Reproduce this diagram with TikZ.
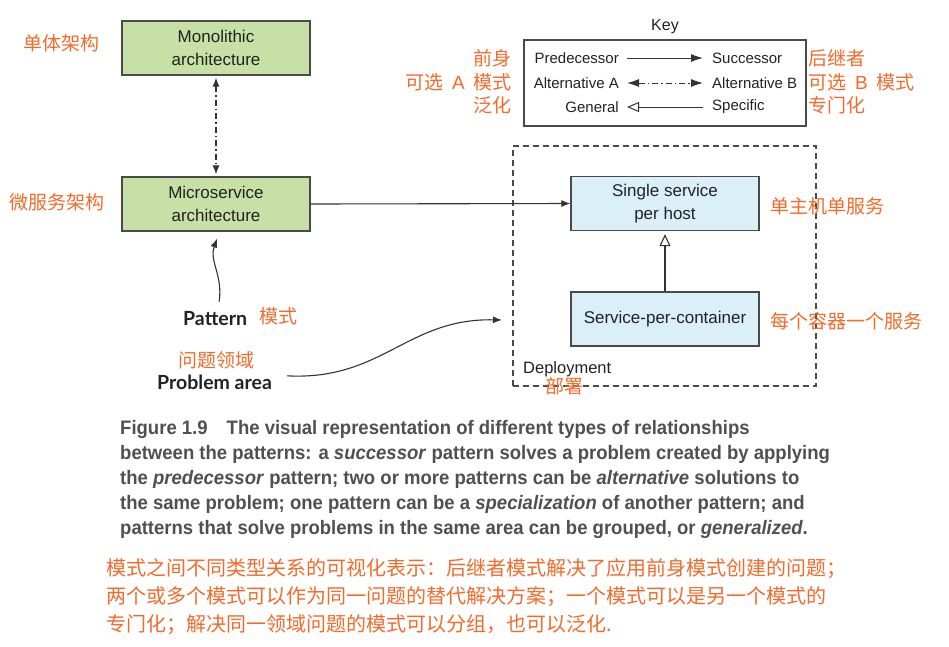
\documentclass[tikz,border=0pt]{standalone}
\usepackage{fontspec}
\usepackage{graphicx}
\setmainfont{Liberation Sans}
\newfontfamily\cjk{Noto Sans CJK SC}
\newfontfamily\boldf{Lato}
\usetikzlibrary{arrows.meta,calc}
\definecolor{zhorange}{HTML}{F26B2B}
\definecolor{greenf}{HTML}{C6E0A6}
\definecolor{bluef}{HTML}{DBEFF8}
\definecolor{boxline}{HTML}{4A4A4A}
\definecolor{linec}{HTML}{333333}
\definecolor{textc}{HTML}{222222}
\definecolor{capc}{HTML}{505050}
\tikzset{
  box/.style={draw=boxline, line width=1.2pt, minimum width=188pt, minimum height=54pt,
    align=center, font=\fontsize{17}{23}\selectfont, text=textc, inner sep=0pt},
  zh/.style={font=\cjk\fontsize{19}{24}\selectfont, text=zhorange, inner sep=0pt},
  keyt/.style={font=\fontsize{15}{16}\selectfont, text=textc, inner sep=0pt},
  bigb/.style={font=\boldf\bfseries\fontsize{19.5}{20}\selectfont, text=textc, inner sep=0pt},
  conn/.style={draw=linec, line width=1.1pt},
  tipf/.style={-{Latex[length=9pt,width=7pt]}},
  ktip/.style={-{Latex[length=12pt,width=8pt]}},
  alt/.style={dash pattern=on 6pt off 3pt on 1.5pt off 3pt},
  capl/.style={anchor=base west, inner sep=0pt, text=capc},
  zhcap/.style={anchor=base west, inner sep=0pt, text=zhorange, font=\cjk\fontsize{20}{20}\selectfont}
}
\newcommand{\capline}[1]{\scalebox{0.95}[1]{\fontsize{19.5}{20}\selectfont\bfseries #1}}
\begin{document}
\begin{tikzpicture}[x=1pt,y=-1pt]
\useasboundingbox (0,0) rectangle (949,646);
% boxes
\node[box,fill=greenf] (mono) at (216,48) {Monolithic\\architecture};
\node[box,fill=greenf] (micro) at (216,204) {Microservice\\architecture};
\node[box,fill=bluef] (single) at (665,203.5) {Single service\\per host};
\node[box,fill=bluef] (spc) at (665,319) {Service-per-container};
\node[draw=boxline, line width=1.1pt, dash pattern=on 6pt off 4pt, minimum width=303pt, minimum height=240pt, inner sep=0pt] (deploy) at (664.5,266) {};
\node[anchor=base west, inner sep=0pt, text=textc, font=\fontsize{16.5}{20}\selectfont] (deptxt) at (523,373) {Deployment};
\node[zh] (depzh) at (564,386) {部署};
% chinese labels
\node[zh] (monozh) at (61,43) {单体架构};
\node[zh] (microzh) at (57,202) {微服务架构};
\node[zh, anchor=west] (singlezh) at (770,206) {单主机单服务};
\node[zh, anchor=west] (spczh) at (770,321) {每个容器一个服务};
% connectors
\draw[conn, alt, {Latex[length=9pt,width=7pt]}-{Latex[length=9pt,width=7pt]}] ([yshift=-2pt]mono.south) -- ([yshift=2pt]micro.north);
\draw[conn, tipf] (micro.east) -- (single.west);
\draw[conn, -{Triangle[open,length=12pt,width=11pt]}] (spc.north) -- ([yshift=-3pt]single.south);
% pattern & problem area
\node[bigb, anchor=base west] (pat) at (183,325) {Pattern};
\node[zh] (patzh) at (278,316) {模式};
\node[zh] (pazh) at (216,360) {问题领域};
\node[bigb, anchor=base west] (pa) at (157,389) {Problem area};
\coordinate (paend) at (502,320);
\draw[conn, tipf] ($(pat.north)+(4,-9)$) .. controls +(4,-26) and +(-8,22) .. ($(micro.south)+(1,7)$);
\draw[conn, tipf] ($(pa.east)+(15,-6)$) .. controls +(95,5) and +(-95,-2) .. (paend);
% key
\node[font=\fontsize{16}{18}\selectfont, text=textc, inner sep=0pt] (keyt) at (665,27) {Key};
\node[draw=boxline, line width=1.2pt, minimum width=282pt, minimum height=86pt, inner sep=0pt] (keybox) at (665,83) {};
\node[keyt, anchor=east] (pred) at (619,58) {Predecessor};
\node[keyt, anchor=east] (alta) at (619,83) {Alternative A};
\node[keyt, anchor=east] (gen) at (619,107) {General};
\node[keyt, anchor=west] (succ) at (712,58) {Successor};
\node[keyt, anchor=west] (altb) at (712,83) {Alternative B};
\node[keyt, anchor=west] (spec) at (712,107) {Specific};
\draw[conn, line width=1pt, ktip, shorten <=8pt, shorten >=9pt] (pred.east) -- (succ.west |- pred.east);
\draw[conn, line width=1pt, alt, {Latex[length=12pt,width=8pt]}-{Latex[length=12pt,width=8pt]}, shorten <=8pt, shorten >=9pt] (alta.east) -- (altb.west |- alta.east);
\draw[conn, line width=1pt, -{Triangle[open,length=12pt,width=10pt]}, shorten <=9pt, shorten >=8pt] (spec.west) -- (gen.east |- spec.west);
\node[zh, anchor=east] (predzh) at (512,58) {前身};
\node[zh, anchor=east] (altazh) at (512,82) {可选\hspace{9pt}{\fontspec{Liberation Sans}A}\hspace{9pt}模式};
\node[zh, anchor=east] (genzh) at (512,105) {泛化};
\node[zh, anchor=west] (succzh) at (808,58) {后继者};
\node[zh, anchor=west] (altbzh) at (808,82) {可选\hspace{9pt}{\fontspec{Liberation Sans}B}\hspace{9pt}模式};
\node[zh, anchor=west] (speczh) at (808,105) {专门化};
% caption
\node[capl] (c1) at (120,434) {\capline{Figure 1.9\hspace{20pt}The visual representation of different types of relationships}};
\node[capl] (c2) at (120,459) {\capline{between the patterns: a \textit{successor} pattern solves a problem created by applying}};
\node[capl] (c3) at (120,484) {\capline{the \textit{predecessor} pattern; two or more patterns can be \textit{alternative} solutions to}};
\node[capl] (c4) at (120,509) {\capline{the same problem; one pattern can be a \textit{specialization} of another pattern; and}};
\node[capl] (c5) at (120,534) {\capline{patterns that solve problems in the same area can be grouped, or \textit{generalized}.}};
\node[zhcap] (z1) at (106,575) {模式之间不同类型关系的可视化表示：后继者模式解决了应用前身模式创建的问题；};
\node[zhcap] (z2) at (106,603) {两个或多个模式可以作为同一问题的替代解决方案；一个模式可以是另一个模式的};
\node[zhcap] (z3) at (106,631) {专门化；解决同一领域问题的模式可以分组，也可以泛化.};
\end{tikzpicture}
\end{document}
